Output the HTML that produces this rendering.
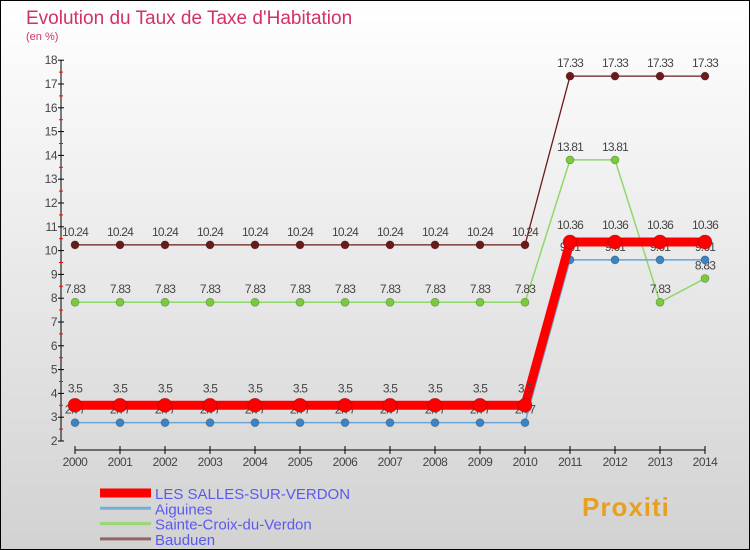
<!DOCTYPE html>
<html><head><meta charset="utf-8"><style>
html,body{margin:0;padding:0;width:750px;height:550px;overflow:hidden}
svg{display:block;font-family:"Liberation Sans",sans-serif}
</style></head><body>
<svg id="chart" width="750" height="550">
<defs><linearGradient id="bg" x1="0" y1="0" x2="0" y2="1"><stop offset="0" stop-color="#ffffff"/><stop offset="1" stop-color="#d2d2d2"/></linearGradient></defs>
<rect x="0.5" y="0.5" width="749" height="549" fill="url(#bg)" stroke="#000"/>
<text x="26" y="24" font-size="19" fill="#d2306a">Evolution du Taux de Taxe d'Habitation</text>
<text x="26" y="40" font-size="11" fill="#d2306a">(en %)</text>
<g id="axes"></g><g id="series"></g><g id="legend"></g>
</svg>
<script>
const years=[2000,2001,2002,2003,2004,2005,2006,2007,2008,2009,2010,2011,2012,2013,2014];
const yTicks=[2,3,4,5,6,7,8,9,10,11,12,13,14,15,16,17,18];
const salles=[3.5,3.5,3.5,3.5,3.5,3.5,3.5,3.5,3.5,3.5,3.5,10.36,10.36,10.36,10.36];
const aiguines=[2.77,2.77,2.77,2.77,2.77,2.77,2.77,2.77,2.77,2.77,2.77,9.61,9.61,9.61,9.61];
const sainteCroix=[7.83,7.83,7.83,7.83,7.83,7.83,7.83,7.83,7.83,7.83,7.83,13.81,13.81,7.83,8.83];
const bauduen=[10.24,10.24,10.24,10.24,10.24,10.24,10.24,10.24,10.24,10.24,10.24,17.33,17.33,17.33,17.33];
const seriesNames=["LES SALLES-SUR-VERDON","Aiguines","Sainte-Croix-du-Verdon","Bauduen"];
const NS="http://www.w3.org/2000/svg";
const xS=i=>75+i*45;
const yS=v=>441-(v-2)*23.8;
function mk(tag,attrs,parent){const e=document.createElementNS(NS,tag);for(const k in attrs)e.setAttribute(k,attrs[k]);parent.appendChild(e);return e;}
const axes=document.getElementById('axes');
let a=mk('line',{x1:61,y1:yS(18),x2:61,y2:yS(2),stroke:'#000'},axes);


yTicks.forEach(t=>{
  mk('line',{x1:58,x2:64,y1:yS(t),y2:yS(t),stroke:'#000'},axes);
  if(t<18) mk('line',{x1:59,x2:63,y1:yS(t+0.5),y2:yS(t+0.5),stroke:'#f00'},axes);
  const tx=mk('text',{x:57,y:yS(t)+4,'font-size':12,'text-anchor':'end',fill:'#444','letter-spacing':'-0.5'},axes);
  tx.textContent=t;
  
  
});
a=mk('line',{x1:xS(0),y1:450,x2:xS(14),y2:450,stroke:'#000'},axes);


years.forEach((y,i)=>{
  mk('line',{x1:xS(i),x2:xS(i),y1:446,y2:454,stroke:'#000'},axes);
  const tx=mk('text',{x:xS(i),y:466,'font-size':12,'text-anchor':'middle',fill:'#444','letter-spacing':'-0.5'},axes);
  tx.textContent=y;
  
  
});
const ser=document.getElementById('series');
const defs=[
 {d:bauduen,c:'#6b1a1a',w:1.3,r:4,name:'bauduen'},
 {d:sainteCroix,c:'#8fd86a',w:1.5,r:4,name:'sainte-croix'},
 {d:aiguines,c:'#6aa6d6',w:1.5,r:4,name:'aiguines'},
 {d:salles,c:'#ff0000',w:9,r:7,name:'les-salles'}
];
const fills={bauduen:'#6b1a1a','sainte-croix':'#78cc3c',aiguines:'#3a84c6','les-salles':'#ff0000'};
defs.forEach(s=>{
  const g=mk('g',{},ser);
  
  
  const p=mk('polyline',{points:s.d.map((v,i)=>xS(i)+','+yS(v)).join(' '),fill:'none',stroke:s.c,'stroke-width':s.w},g);
  
  
  s.d.forEach((v,i)=>{
    const c=mk('circle',{cx:xS(i),cy:yS(v),r:s.r,fill:fills[s.name],stroke:'rgba(0,0,0,0.3)','stroke-width':0.7},g);
    
    
    const t=mk('text',{x:xS(i),y:yS(v)-(s.name==='les-salles'?13:9),'font-size':12,'text-anchor':'middle',fill:'#444','letter-spacing':'-0.8'},g);
    t.textContent=v;
    
    
  });
});
const leg=document.getElementById('legend');
const lc=['#ff0000','#7aaed6','#9ad870','#946464'],lw=[9,3,3,3];
seriesNames.forEach((n,i)=>{
  const y=493+i*15.3;
  const l=mk('line',{x1:100,x2:151,y1:y,y2:y,stroke:lc[i],'stroke-width':lw[i]},leg);
  
  
  const t=mk('text',{x:155,y:y+6,'font-size':15,fill:'#5a5aee'},leg);
  t.textContent=n;
  
  
});
const brand=mk('text',{x:582,y:516,'font-size':26,'font-weight':'bold',fill:'#e8a020','letter-spacing':'1'},leg);
brand.textContent='Proxiti';


</script>
</body></html>
